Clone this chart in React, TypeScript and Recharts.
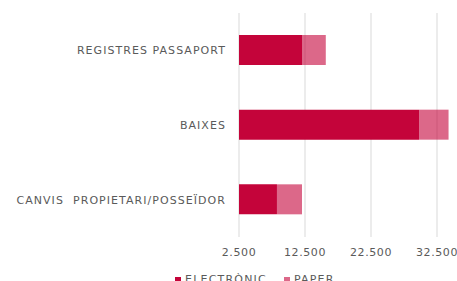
import React from 'react';
import { BarChart, Bar, XAxis, YAxis, CartesianGrid, Legend } from 'recharts';

const categories = ['REGISTRES PASSAPORT', 'BAIXES', 'CANVIS  PROPIETARI/POSSEÏDOR'];
const electronic = [12100, 29800, 8250];
const paper = [3550, 4450, 3800];
const xTicks = [2500, 12500, 22500, 32500];
const seriesNames = ['ELECTRÒNIC', 'PAPER'];
const barColor = '#C4043A';
const paperOpacity = 0.6;

const data = categories.map((c, i) => ({ name: c, electronic: electronic[i], paper: paper[i] }));

const fmt = (v: number) => v.toLocaleString('de-DE');

const FONT = "'DejaVu Sans', sans-serif";
const TEXT = '#5a5a5a';

const YTick = (props: any) => {
  const { x, y, payload } = props;
  return (
    <text x={x} y={y} dy="0.355em" textAnchor="end" fill={TEXT} fontSize={11} fontFamily={FONT} letterSpacing={1.05} style={{ whiteSpace: 'pre' }}>
      {payload.value}
    </text>
  );
};

const XTick = (props: any) => {
  const { x, y, payload } = props;
  return (
    <text x={x} y={y} dy="0.71em" textAnchor="middle" fill={TEXT} fontSize={11} fontFamily={FONT} letterSpacing={0.6}>
      {fmt(payload.value)}
    </text>
  );
};

const LegendContent = () => (
  <div style={{ display: 'flex', paddingLeft: 175, fontFamily: FONT, fontSize: 11, color: TEXT, lineHeight: '14px', letterSpacing: 1.2 }}>
    {seriesNames.map((n, i) => (
      <div key={n} style={{ display: 'flex', alignItems: 'center', marginRight: 17 }}>
        <span style={{ display: 'inline-block', width: 6, height: 6, background: barColor, opacity: i === 0 ? 1 : paperOpacity, marginRight: 4 }} />
        <span>{n}</span>
      </div>
    ))}
  </div>
);

export default function App() {
  return (
    <div style={{ position: 'absolute', left: 0, top: 0, width: 457, height: 281, overflow: 'hidden', background: '#fff' }}>
      <BarChart
        width={503}
        height={281}
        data={data}
        layout="vertical"
        margin={{ top: 13, right: 0, bottom: 20, left: 0 }}
      >
        <CartesianGrid horizontal={false} vertical={true} stroke="#D9D9D9" />
        <XAxis
          type="number"
          domain={[2500, 42500]}
          allowDataOverflow
          ticks={xTicks}
          axisLine={false}
          tickLine={false}
          tickSize={6}
          tickMargin={5}
          height={24}
          tick={<XTick />}
        />
        <YAxis
          type="category"
          dataKey="name"
          width={239}
          axisLine={false}
          tickLine={false}
          tickSize={6}
          tickMargin={7}
          tick={<YTick />}
        />
        <Legend verticalAlign="middle" align="center" wrapperStyle={{ top: 273, left: 0, width: 457 }} content={<LegendContent />} />
        <Bar dataKey="electronic" stackId="a" fill={barColor} barSize={30} isAnimationActive={false} />
        <Bar dataKey="paper" stackId="a" fill={barColor} fillOpacity={paperOpacity} barSize={30} isAnimationActive={false} />
      </BarChart>
    </div>
  );
}
